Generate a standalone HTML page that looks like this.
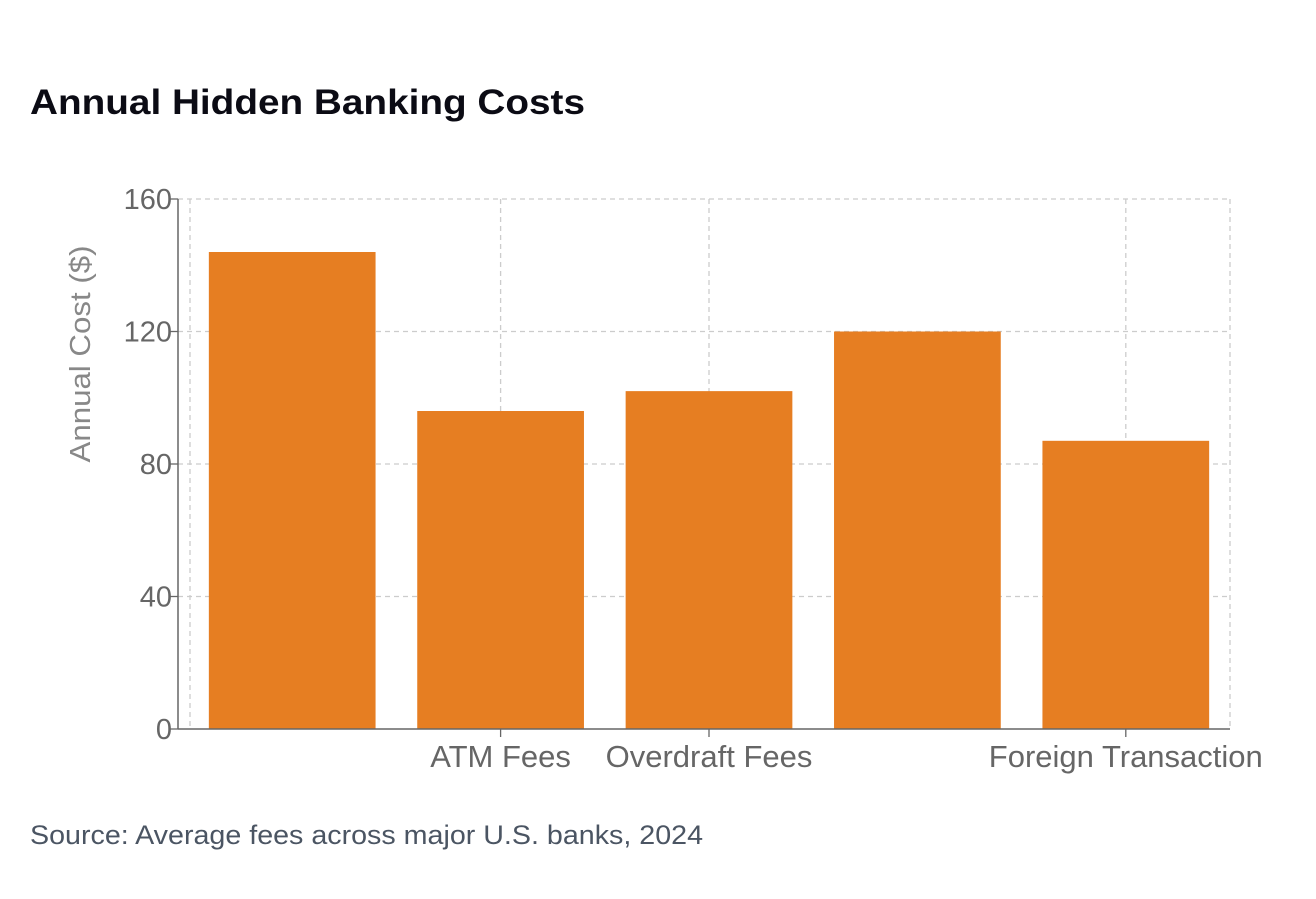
<!DOCTYPE html>
<html><head><meta charset="utf-8"><style>
body{margin:0;background:#fff;font-family:"Liberation Sans",sans-serif;}
</style></head><body>
<svg width="1316" height="894" xmlns="http://www.w3.org/2000/svg">
<text x="30" y="114" font-size="35" font-weight="bold" fill="#0b0b14" textLength="555" lengthAdjust="spacingAndGlyphs">Annual Hidden Banking Costs</text>
<g id="grid"></g>
<g id="bars"></g>
<g id="axes"></g>
<text transform="translate(90,354) rotate(-90)" text-anchor="middle" font-size="29" fill="#888" textLength="217" lengthAdjust="spacingAndGlyphs">Annual Cost ($)</text>
<text x="30" y="844" font-size="27" fill="#4b5563" textLength="673" lengthAdjust="spacingAndGlyphs">Source: Average fees across major U.S. banks, 2024</text>
</svg>
<script>
const categories=["Monthly Maintenance","ATM Fees","Overdraft Fees","Wire Transfer Fees","Foreign Transaction"];
const values=[144,96,102,120,87];
const yTicks=[0,40,80,120,160];
const shownLabels=[1,2,4];
const NS="http://www.w3.org/2000/svg";
const L=178,R=1230,T=199,B=729,bandL=188,yMax=160;
const bw=(R-bandL)/categories.length;
const y=v=>B-(v/yMax)*(B-T);
const xc=i=>bandL+bw*(i+0.5);
function mk(tag,attrs,parent){const e=document.createElementNS(NS,tag);for(const k in attrs)e.setAttribute(k,attrs[k]);parent.appendChild(e);return e;}
const grid=document.getElementById('grid'),bars=document.getElementById('bars'),axes=document.getElementById('axes');
yTicks.forEach(t=>{
  if(t>0){const g=mk('line',{x1:L,x2:R,y1:y(t),y2:y(t),stroke:'#ccc','stroke-dasharray':'5,4','stroke-width':1.3},grid);
  
  }
  const tk=mk('line',{x1:L-8,x2:L,y1:y(t),y2:y(t),stroke:'#666','stroke-width':1.3},axes);
  
  
  const lb=mk('text',{x:L-6,y:y(t)+10,'text-anchor':'end','font-size':29,fill:'#666'},axes);
  lb.textContent=t;
  
  
});
const gl=mk('line',{x1:bandL+2,x2:bandL+2,y1:T,y2:B,stroke:'#ccc','stroke-dasharray':'5,4','stroke-width':1.3},grid);


const gr=mk('line',{x1:R,x2:R,y1:T,y2:B,stroke:'#ccc','stroke-dasharray':'5,4','stroke-width':1.3},grid);


shownLabels.forEach(i=>{
  const g=mk('line',{x1:xc(i),x2:xc(i),y1:T,y2:B,stroke:'#ccc','stroke-dasharray':'5,4','stroke-width':1.3},grid);
  
  
  const tk=mk('line',{x1:xc(i),x2:xc(i),y1:B,y2:B+8,stroke:'#666','stroke-width':1.3},axes);
  
  
  const lb=mk('text',{x:xc(i),y:B+38,'text-anchor':'middle','font-size':31,fill:'#666'},axes);
  lb.textContent=categories[i];
  
  
});
values.forEach((v,i)=>{
  const w=bw*0.8;
  const r=mk('rect',{x:xc(i)-w/2,y:y(v),width:w,height:B-y(v),fill:'#e67e22'},bars);
  
  
});
const ax=mk('line',{x1:L,x2:L,y1:T,y2:B,stroke:'#666','stroke-width':1.5},axes);


const bx=mk('line',{x1:L,x2:R,y1:B,y2:B,stroke:'#666','stroke-width':1.5},axes);


</script>
</body></html>
